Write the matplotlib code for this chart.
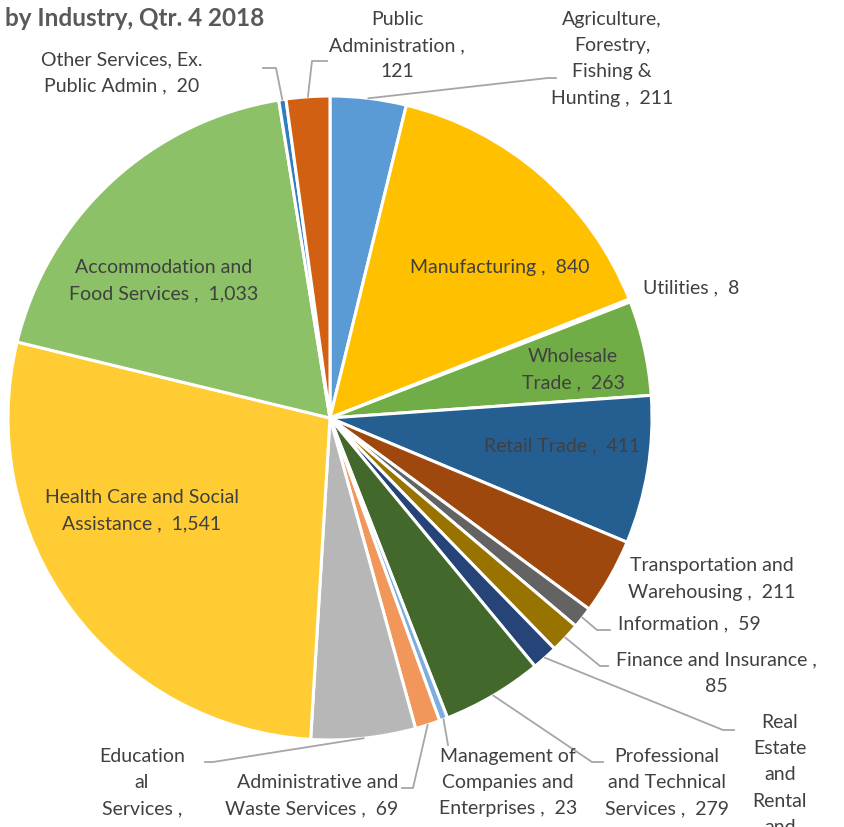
import matplotlib.pyplot as plt
import numpy as np

industries = ['Agriculture, Forestry, Fishing & Hunting', 'Manufacturing', 'Utilities',
              'Wholesale Trade', 'Retail Trade', 'Transportation and Warehousing',
              'Information', 'Finance and Insurance', 'Real Estate and Rental and Leasing',
              'Professional and Technical Services', 'Management of Companies and Enterprises',
              'Administrative and Waste Services', 'Educational Services',
              'Health Care and Social Assistance', 'Accommodation and Food Services',
              'Other Services, Ex. Public Admin', 'Public Administration']
employment = [211, 840, 8, 263, 411, 211, 59, 85, 72, 279, 23, 69, 290, 1541, 1033, 20, 121]
colors = ['#5B9BD5', '#FFC000', '#A5A5A5', '#70AD47', '#255E91', '#9E480E', '#636363',
          '#997300', '#264478', '#43682B', '#7CAFDD', '#F1975A', '#B7B7B7', '#FFCD33',
          '#8CC168', '#327DC2', '#D26012']
# how each label is wrapped into lines, as in the original ('' = value on its own line)
label_lines = [['Agriculture,', 'Forestry,', 'Fishing &', 'Hunting ,'],
               ['Manufacturing ,'], ['Utilities ,'], ['Wholesale', 'Trade ,'],
               ['Retail Trade ,'], ['Transportation and', 'Warehousing ,'],
               ['Information ,'], ['Finance and Insurance ,', ''],
               ['Real', 'Estate', 'and', 'Rental', 'and', 'Leasing ,', ''],
               ['Professional', 'and Technical', 'Services ,'],
               ['Management of', 'Companies and', 'Enterprises ,'],
               ['Administrative and', 'Waste Services ,'],
               ['Education', 'al', 'Services ,', ''],
               ['Health Care and Social', 'Assistance ,'],
               ['Accommodation and', 'Food Services ,'],
               ['Other Services, Ex.', 'Public Admin ,'],
               ['Public', 'Administration ,', '']]

W, H = 845, 827
plt.rcParams['font.family'] = ['Lato', 'DejaVu Sans']
fig = plt.figure(figsize=(W / 100, H / 100), dpi=100)
cx, cy, r = 330, 418, 322
ax = fig.add_axes([(cx - r) / W, (H - cy - r) / H, 2 * r / W, 2 * r / H])
wedges, _ = ax.pie(employment, colors=colors, startangle=90, counterclock=False, radius=1,
                   wedgeprops=dict(edgecolor='white', linewidth=2.2))
ax.set_xlim(-1, 1)
ax.set_ylim(-1, 1)
ax.axis('off')

# label layout: text anchor (pixels), alignment, leader elbow points (pixels)
layout = {
    0: ((612, 11), 'center', 'top', [(548, 78), (556, 78)]),
    1: ((500, 268), 'center', 'center', None),
    2: ((643, 288), 'left', 'center', None),
    3: ((573, 370), 'center', 'center', None),
    4: ((562, 446), 'center', 'center', None),
    5: ((712, 579), 'center', 'center', None),
    6: ((618, 624), 'left', 'center', [(597, 630), (610, 630)]),
    7: ((716, 673), 'center', 'center', [(600, 666), (608, 666)]),
    8: ((780, 714), 'center', 'top', [(723, 730), (734, 730)]),
    9: ((667, 748), 'center', 'top', [(592, 762), (603, 762)]),
    10: ((508, 748), 'center', 'top', [(448, 745)]),
    11: ((398, 796), 'right', 'center', [(413, 788), (402, 788)]),
    12: ((142, 748), 'center', 'top', [(213, 762), (205, 762)]),
    13: ((142, 511), 'center', 'center', None),
    14: ((164, 281), 'center', 'center', None),
    15: ((122, 73), 'center', 'center', [(276, 68), (263, 68)]),
    16: ((397, 11), 'center', 'top', [(312, 61), (327, 61)]),
}

for i, w in enumerate(wedges):
    (tx, ty), ha, va, elbow = layout[i]
    lines = list(label_lines[i])
    val = f'{employment[i]:,}'
    if lines[-1] == '':
        lines[-1] = val
    else:
        lines[-1] = lines[-1] + '  ' + val
    fig.text(tx / W, 1 - ty / H, '\n'.join(lines), ha=ha, va=va, multialignment=ha,
             fontsize=14, color='#404040', linespacing=1.66)
    if elbow is not None:
        mid = np.deg2rad((w.theta1 + w.theta2) / 2)
        sx, sy = ax.transData.transform((np.cos(mid), np.sin(mid)))
        pts = [(sx, H - sy)] + elbow
        xs = [p[0] / W for p in pts]
        ys = [1 - p[1] / H for p in pts]
        fig.add_artist(plt.Line2D(xs, ys, color='#A6A6A6', linewidth=1.3))

fig.text(5 / W, 1 - 18 / H, 'by Industry, Qtr. 4 2018', ha='left', va='center',
         fontsize=17.5, fontweight='bold', color='#595959')

fig.savefig('out.png', dpi=100, facecolor='white')
